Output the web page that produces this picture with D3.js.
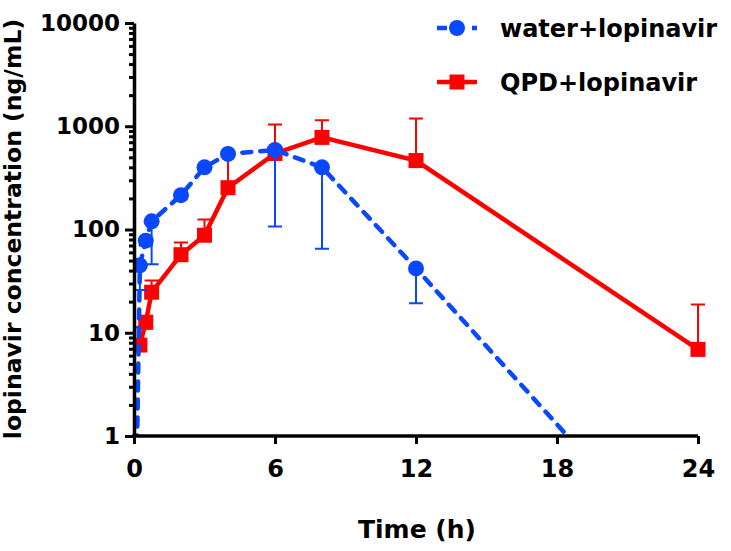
<!DOCTYPE html>
<html>
<head>
<meta charset="utf-8">
<script src="https://cdn.jsdelivr.net/npm/d3@7"></script>
<style>
  body { margin: 0; background: #fff; }
  svg text { font-family: "DejaVu Sans", "Liberation Sans", Arial, sans-serif; font-weight: bold; fill: #000; }
</style>
</head>
<body>
<div id="chart"></div>
<script>
// sampling times (h)
const waterTimes = [0, 0.25, 0.5, 0.75, 2, 3, 4, 6, 8, 12, 24];
const waterMean  = [0.01, 45, 78, 120, 215, 400, 540, 590, 400, 42, 0.04];
const waterSD    = [0, 19, 8, 74, 15, 25, 30, 483, 335, 22.7, 0];   // drawn downwards

const qpdTimes = [0.25, 0.5, 0.75, 2, 3, 4, 6, 8, 12, 24];
const qpdMean  = [7.6, 12.6, 24.7, 57, 88, 254, 545, 780, 465, 6.9];
const qpdSD    = [3.7, 2, 7.3, 18, 37, 296, 495, 360, 725, 11.9];     // drawn upwards

const xTicks = [0, 6, 12, 18, 24];
const yTicks = [1, 10, 100, 1000, 10000];

const seriesNames = ["water+lopinavir", "QPD+lopinavir"];
const blue = "#0a48ff";
const red = "#ff0000";

const W = 731, H = 551;
const svg = d3.select("#chart").append("svg")
  .attr("width", W)
  .attr("height", H);

const x = d3.scaleLinear().domain([0, 24]).range([134, 698]);
const y = d3.scaleLog().domain([1, 10000]).range([436, 23]);

const water = waterTimes.map((t, i) => ({ t: t, v: waterMean[i], sd: waterSD[i] }));
const qpd = qpdTimes.map((t, i) => ({ t: t, v: qpdMean[i], sd: qpdSD[i] }));

svg.append("clipPath").attr("id", "plot-clip")
  .append("rect")
  .attr("x", x(0)).attr("y", y(10000) - 10)
  .attr("width", x(24) - x(0) + 10)
  .attr("height", y(1) - y(10000) + 10);

const line = d3.line().x(d => x(d.t)).y(d => y(d.v));

const plot = svg.append("g").attr("clip-path", "url(#plot-clip)");

// QPD series (under)
const qg = plot.append("g");
qg.selectAll(".err").data(qpd).enter().append("path")
  .attr("d", d => {
    const cx = x(d.t), y0 = y(d.v), y1 = y(d.v + d.sd);
    return `M${cx},${y0}V${y1}M${cx - 7},${y1}H${cx + 7}`;
  })
  .attr("stroke", red).attr("stroke-width", 2).attr("fill", "none");
qg.append("path").datum(qpd)
  .attr("d", line)
  .attr("fill", "none").attr("stroke", red).attr("stroke-width", 4.5);
qg.selectAll("rect").data(qpd).enter().append("rect")
  .attr("x", d => x(d.t) - 7.5).attr("y", d => y(d.v) - 7.5)
  .attr("width", 15).attr("height", 15)
  .attr("fill", red);

// water series (over)
const wg = plot.append("g");
const waterPts = water.filter(d => d.v >= 1);
wg.selectAll(".err").data(waterPts.filter(d => d.sd > 0)).enter().append("path")
  .attr("d", d => {
    const cx = x(d.t), y0 = y(d.v), y1 = y(d.v - d.sd);
    return `M${cx},${y0}V${y1}M${cx - 7},${y1}H${cx + 7}`;
  })
  .attr("stroke", blue).attr("stroke-width", 2).attr("fill", "none");
wg.append("path").datum(water)
  .attr("d", line)
  .attr("fill", "none").attr("stroke", blue).attr("stroke-width", 4.5)
  .attr("stroke-dasharray", "9,9").attr("stroke-linecap", "round");
wg.selectAll("circle").data(waterPts).enter().append("circle")
  .attr("cx", d => x(d.t)).attr("cy", d => y(d.v))
  .attr("r", 8).attr("fill", blue);

// axes
const yMinor = svg.append("g")
  .attr("transform", `translate(${x(0)},0)`)
  .call(d3.axisLeft(y).tickValues(y.ticks().filter(v => yTicks.indexOf(v) < 0)).tickSize(5).tickFormat(""));
yMinor.select(".domain").remove();
yMinor.selectAll("line").attr("stroke-width", 3);

const yAxis = svg.append("g")
  .attr("transform", `translate(${x(0)},0)`)
  .call(d3.axisLeft(y).tickValues(yTicks).tickSize(9).tickSizeOuter(0).tickPadding(5).tickFormat(d3.format("d")));
yAxis.select(".domain").attr("stroke-width", 3.5);
yAxis.selectAll("line").attr("stroke-width", 3);
yAxis.selectAll("text").style("font-size", "23px");

const xAxis = svg.append("g")
  .attr("transform", `translate(0,${y(1)})`)
  .call(d3.axisBottom(x).tickValues(xTicks).tickSize(8).tickSizeOuter(0).tickPadding(16));
xAxis.select(".domain").attr("stroke-width", 3.5).attr("d", `M${x(0) - 1.75},0H${x(24)}`);
xAxis.selectAll("line").attr("stroke-width", 3);
xAxis.selectAll("text").style("font-size", "24px");

// axis titles
svg.append("text")
  .attr("x", 417).attr("y", 538)
  .attr("text-anchor", "middle")
  .style("font-size", "25px")
  .text("Time (h)");

svg.append("text")
  .attr("transform", "translate(21,229) rotate(-90)")
  .attr("text-anchor", "middle")
  .style("font-size", "23.5px")
  .text("lopinavir concentration (ng/mL)");

// legend
const legend = svg.append("g");
const legendRows = [
  { name: seriesNames[0], color: blue, dashed: true, y: 28 },
  { name: seriesNames[1], color: red, dashed: false, y: 82 }
];
legendRows.forEach(r => {
  const g = legend.append("g").attr("transform", `translate(0,${r.y})`);
  if (r.dashed) {
    g.append("path").attr("d", "M437,0H447M472,0H477")
      .attr("stroke", r.color).attr("stroke-width", 4.5);
    g.append("circle").attr("cx", 457).attr("cy", 0).attr("r", 8).attr("fill", r.color);
  } else {
    g.append("path").attr("d", "M437,0H477")
      .attr("stroke", r.color).attr("stroke-width", 4.5);
    g.append("rect").attr("x", 449.5).attr("y", -7.5).attr("width", 15).attr("height", 15).attr("fill", r.color);
  }
  g.append("text").attr("x", 500).attr("y", 9)
    .style("font-size", "24px")
    .text(r.name);
});
</script>
</body>
</html>
